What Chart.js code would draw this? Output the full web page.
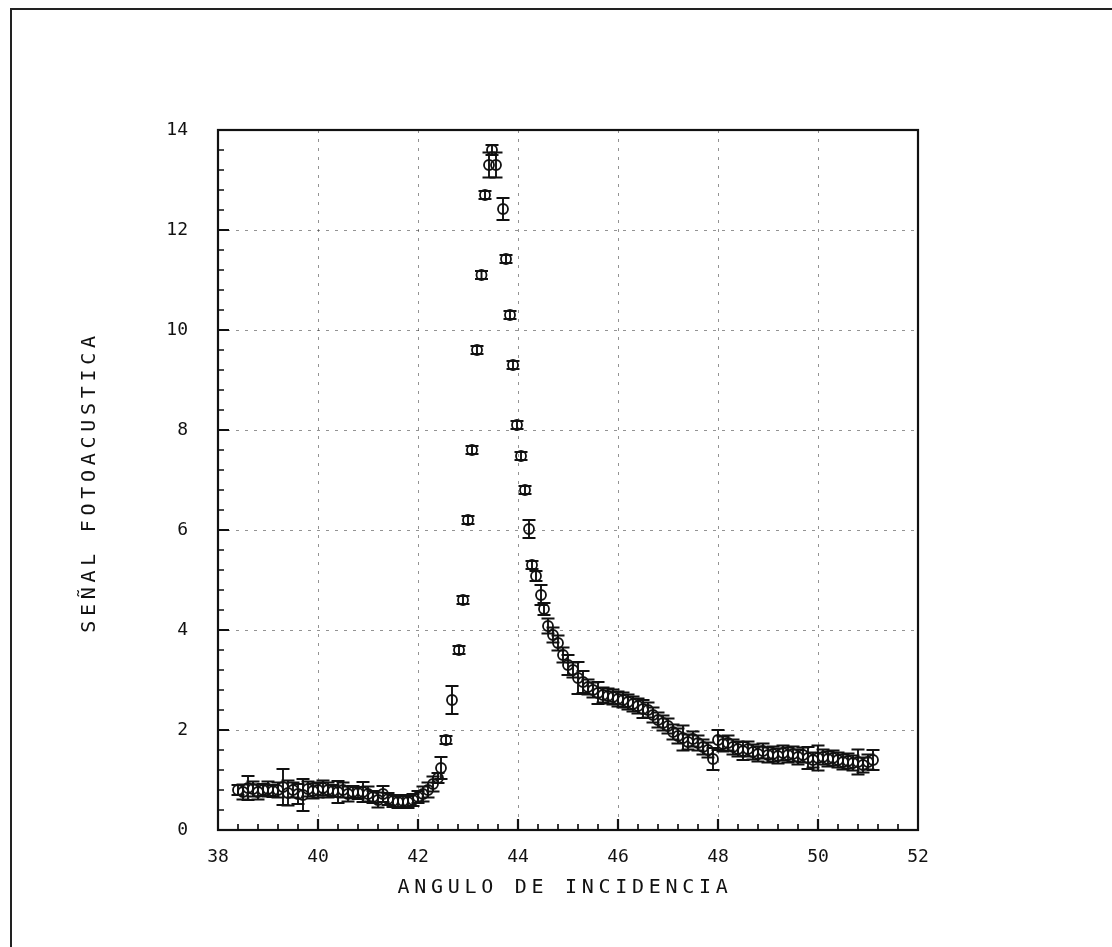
<!DOCTYPE html>
<html>
<head>
<meta charset="utf-8">
<script src="https://cdn.jsdelivr.net/npm/chart.js@4.4.1/dist/chart.umd.min.js"></script>
<style>
  body { margin: 0; background: #fff; overflow: hidden; }
  #page { position: absolute; left: 0; top: 0; width: 1112px; height: 947px; }
  #frame { position: absolute; left: 10px; top: 8px; width: 1200px; height: 1000px;
           border-top: 2px solid #222; border-left: 2px solid #222; }
  canvas { position: absolute; left: 0; top: 0; }
</style>
</head>
<body>
<div id="page">
  <div id="frame"></div>
  <canvas id="fotoacustica" width="1112" height="947"></canvas>
</div>
<script>
// angulo de incidencia (grados)
const angles = [
    38.4, 38.5, 38.6, 38.7, 38.8, 38.9, 39.0, 39.1, 39.2, 39.3, 39.4, 39.5, 39.6, 39.7,
    39.8, 39.9, 40.0, 40.1, 40.2, 40.3, 40.4, 40.5, 40.6, 40.7, 40.8, 40.9, 41.0, 41.1,
    41.2, 41.3, 41.4, 41.5, 41.6, 41.7, 41.8, 41.9, 42.0, 42.1, 42.2, 42.3, 42.4, 42.46,
    42.56, 42.68, 42.82, 42.9, 43.0, 43.08, 43.18, 43.27, 43.34, 43.42, 43.48, 43.56,
    43.7, 43.76, 43.84, 43.9, 43.98, 44.06, 44.14, 44.22, 44.28, 44.36, 44.46, 44.52,
    44.6, 44.7, 44.8, 44.9, 45.0, 45.1, 45.2, 45.3, 45.4, 45.5, 45.6, 45.7, 45.8, 45.9,
    46.0, 46.1, 46.2, 46.3, 46.4, 46.5, 46.6, 46.7, 46.8, 46.9, 47.0, 47.1, 47.2, 47.3,
    47.4, 47.5, 47.6, 47.7, 47.8, 47.9, 48.0, 48.1, 48.2, 48.3, 48.4, 48.5, 48.6, 48.7,
    48.8, 48.9, 49.0, 49.1, 49.2, 49.3, 49.4, 49.5, 49.6, 49.7, 49.8, 49.9, 50.0, 50.1,
    50.2, 50.3, 50.4, 50.5, 50.6, 50.7, 50.8, 50.9, 51.0, 51.1
]

// señal fotoacustica medida
const signal = [
    0.80, 0.76, 0.84, 0.82, 0.76, 0.80, 0.82, 0.78, 0.80, 0.86, 0.74, 0.80, 0.72, 0.70,
    0.82, 0.78, 0.80, 0.84, 0.80, 0.78, 0.76, 0.80, 0.72, 0.76, 0.74, 0.76, 0.72, 0.66,
    0.60, 0.72, 0.62, 0.58, 0.56, 0.58, 0.56, 0.60, 0.66, 0.72, 0.80, 0.92, 1.04, 1.24,
    1.80, 2.60, 3.60, 4.60, 6.20, 7.60, 9.60, 11.10, 12.70, 13.30, 13.60, 13.30,
    12.42, 11.42, 10.30, 9.30, 8.10, 7.48, 6.80, 6.02, 5.30, 5.08, 4.70, 4.42,
    4.08, 3.90, 3.74, 3.50, 3.30, 3.20, 3.04, 2.96, 2.86, 2.80, 2.74, 2.70, 2.68, 2.66,
    2.62, 2.60, 2.56, 2.52, 2.48, 2.42, 2.40, 2.30, 2.20, 2.14, 2.08, 1.96, 1.88, 1.84,
    1.76, 1.82, 1.74, 1.66, 1.60, 1.42, 1.80, 1.72, 1.74, 1.66, 1.62, 1.58, 1.62, 1.56,
    1.52, 1.58, 1.50, 1.52, 1.48, 1.54, 1.50, 1.52, 1.46, 1.50, 1.44, 1.40, 1.44, 1.46,
    1.42, 1.44, 1.40, 1.36, 1.38, 1.34, 1.36, 1.30, 1.36, 1.40
]

// barras de error (+/-)
const signalErr = [
    0.10, 0.15, 0.24, 0.15, 0.15, 0.12, 0.15, 0.12, 0.15, 0.36, 0.25, 0.15, 0.20, 0.32,
    0.15, 0.15, 0.15, 0.15, 0.15, 0.12, 0.22, 0.15, 0.15, 0.12, 0.12, 0.20, 0.15, 0.12,
    0.15, 0.16, 0.12, 0.12, 0.12, 0.12, 0.12, 0.12, 0.12, 0.15, 0.15, 0.15, 0.10, 0.22,
    0.08, 0.28, 0.08, 0.08, 0.08, 0.08, 0.08, 0.08, 0.08, 0.25, 0.10, 0.25,
    0.22, 0.08, 0.08, 0.08, 0.08, 0.08, 0.08, 0.18, 0.08, 0.10, 0.20, 0.12,
    0.15, 0.15, 0.15, 0.15, 0.20, 0.15, 0.32, 0.22, 0.15, 0.15, 0.22, 0.15, 0.15, 0.15,
    0.15, 0.15, 0.15, 0.15, 0.15, 0.18, 0.15, 0.15, 0.15, 0.15, 0.15, 0.15, 0.15, 0.25,
    0.15, 0.15, 0.15, 0.15, 0.15, 0.22, 0.20, 0.15, 0.15, 0.15, 0.15, 0.18, 0.15, 0.15,
    0.15, 0.15, 0.15, 0.15, 0.15, 0.15, 0.15, 0.15, 0.15, 0.15, 0.22, 0.15, 0.25, 0.15,
    0.15, 0.15, 0.15, 0.15, 0.15, 0.15, 0.25, 0.15, 0.15, 0.20
]

const xTickValues = [38, 40, 42, 44, 46, 48, 50, 52]
const yTickValues = [0, 2, 4, 6, 8, 10, 12, 14]
const xTitle = 'ANGULO DE INCIDENCIA'
const yTitle = 'SEÑAL FOTOACUSTICA'

const monoFont = "'DejaVu Sans Mono', 'Liberation Mono', monospace"
const ink = '#111'

// barras de error verticales con topes
const errorBars = {
    id: 'errorBars',
    afterDatasetsDraw(chart) {
        const {ctx, scales: {x, y}} = chart
        ctx.save()
        ctx.strokeStyle = ink
        ctx.lineWidth = 1.9
        signal.forEach((v, i) => {
            const px = x.getPixelForValue(angles[i])
            const top = y.getPixelForValue(v + signalErr[i])
            const bottom = y.getPixelForValue(v - signalErr[i])
            ctx.beginPath()
            ctx.moveTo(px, top)
            ctx.lineTo(px, bottom)
            ctx.moveTo(px - 6.5, top)
            ctx.lineTo(px + 6.5, top)
            ctx.moveTo(px - 6.5, bottom)
            ctx.lineTo(px + 6.5, bottom)
            ctx.stroke()
        })
        ctx.restore()
    }
}

// marco del grafico y marcas hacia adentro (menores cada 0.4)
const frameAndTicks = {
    id: 'frameAndTicks',
    afterDraw(chart) {
        const {ctx, chartArea: a, scales: {x, y}} = chart
        ctx.save()
        ctx.strokeStyle = ink
        ctx.lineWidth = 2.2
        ctx.strokeRect(a.left, a.top, a.right - a.left, a.bottom - a.top)
        for (let i = 1; i < 35; i++) {
            const major = i % 5 === 0
            const len = major ? 11 : 6
            ctx.lineWidth = major ? 2.2 : 1.7
            const px = x.getPixelForValue(x.min + i * 0.4)
            const py = y.getPixelForValue(y.min + i * 0.4)
            ctx.beginPath()
            ctx.moveTo(px, a.bottom)
            ctx.lineTo(px, a.bottom - len)
            ctx.moveTo(a.left, py)
            ctx.lineTo(a.left + len, py)
            ctx.stroke()
        }
        ctx.restore()
    }
}

// titulos de ejes con letras espaciadas
const spacedTitles = {
    id: 'spacedTitles',
    afterDraw(chart) {
        const {ctx, chartArea: a} = chart
        ctx.save()
        ctx.fillStyle = ink
        ctx.font = `20px ${monoFont}`
        ctx.letterSpacing = '4.7px'
        ctx.textAlign = 'center'
        ctx.textBaseline = 'middle'
        ctx.fillText(xTitle, (a.left + a.right) / 2 - 3, a.bottom + 58)
        ctx.translate(a.left - 128, (a.top + a.bottom) / 2 + 2)
        ctx.rotate(-Math.PI / 2)
        ctx.fillText(yTitle, 0, 0)
        ctx.restore()
    }
}

const gridStyle = {
    color: 'rgba(40, 40, 40, 0.5)',
    lineWidth: 1,
    drawTicks: false
}

new Chart(document.getElementById('fotoacustica'), {
    type: 'scatter',
    data: {
        datasets: [{
            data: angles.map((a, i) => ({x: a, y: signal[i]})),
            pointStyle: 'circle',
            pointRadius: 5,
            pointHoverRadius: 5,
            borderColor: ink,
            borderWidth: 1.8,
            backgroundColor: 'rgba(0,0,0,0)'
        }]
    },
    options: {
        responsive: false,
        animation: false,
        events: [],
        layout: {padding: {top: 130, right: 194, left: 0, bottom: 0}},
        plugins: {legend: {display: false}, tooltip: {enabled: false}},
        scales: {
            x: {
                type: 'linear',
                min: 38,
                max: 52,
                afterBuildTicks: scale => { scale.ticks = xTickValues.map(v => ({value: v})) },
                afterFit: scale => { scale.height = 117 },
                grid: gridStyle,
                border: {display: false, dash: [3, 6]},
                ticks: {
                    padding: 17,
                    maxRotation: 0,
                    color: ink,
                    font: {family: monoFont, size: 18}
                }
            },
            y: {
                type: 'linear',
                min: 0,
                max: 14,
                afterBuildTicks: scale => { scale.ticks = yTickValues.map(v => ({value: v})) },
                afterFit: scale => { scale.width = 218 },
                grid: gridStyle,
                border: {display: false, dash: [3, 6]},
                ticks: {
                    padding: 30,
                    color: ink,
                    font: {family: monoFont, size: 18}
                }
            }
        }
    },
    plugins: [errorBars, frameAndTicks, spacedTitles]
})
</script>
</body>
</html>
